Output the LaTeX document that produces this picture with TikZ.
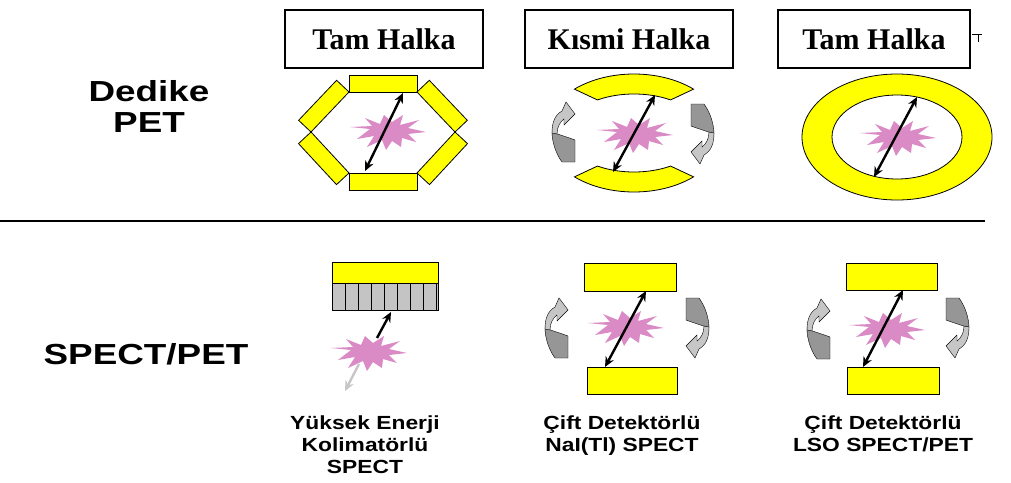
\documentclass[tikz,border=0pt]{standalone}
\usepackage{fontspec}
\setmainfont{Liberation Serif}
\newfontfamily\headfont[FakeStretch=1.27]{Liberation Sans}
\newfontfamily\capfont[FakeStretch=1.2]{Liberation Sans}
\usetikzlibrary{arrows.meta,calc}

\definecolor{detyellow}{RGB}{255,255,0}
\definecolor{burst}{RGB}{218,138,196}
\definecolor{turnlight}{RGB}{198,198,198}
\definecolor{turndark}{RGB}{150,150,150}
\definecolor{septa}{RGB}{196,196,196}

\tikzset{
  crystal/.style={fill=detyellow, draw=black, line width=0.8pt},
  titlebox/.style={draw=black, line width=1.3pt, minimum width=#1, minimum height=58pt,
    inner sep=0pt, font=\fontsize{30}{32}\selectfont\bfseries},
  rowlabel/.style={font=\headfont\bfseries\fontsize{29}{31}\selectfont, align=center},
  caption/.style={font=\capfont\bfseries\fontsize{19}{22}\selectfont, align=center, anchor=north},
  gamma/.style={line width=2.4pt, {Stealth[length=10pt,width=9pt]}-{Stealth[length=10pt,width=9pt]}},
  gammaone/.style={line width=2.4pt, -{Stealth[length=10pt,width=9pt]}},
  escape/.style={line width=2.4pt, draw=turnlight, -{Stealth[length=10pt,width=9pt]}},
  burstpic/.pic={
    \fill[burst] (-38,-5) -- (-18,-3) -- (-31,7) -- (-14,4) -- (-21,15) -- (-6,8)
      -- (-2,18) -- (4,9) -- (13,15) -- (14,6) -- (28,10) -- (20,2) -- (38,0)
      -- (20,-4) -- (31,-12) -- (12,-7) -- (15,-17) -- (4,-10) -- (-4,-17)
      -- (-8,-8) -- (-23,-14) -- (-16,-6) -- cycle;
  },
  turnpic/.pic={
    \filldraw[fill=turndark, draw=black, line width=0.4pt]
      (12,30) -- (-1,30) .. controls (-7,22) and (-11,10) .. (-11,0)
      .. controls (-6,2) and (4,5) .. (12,8) -- cycle;
    \filldraw[fill=turnlight, draw=black, line width=0.4pt]
      (-11,1) .. controls (-11,-10) and (-8,-17) .. (-1,-21) -- (3,-30) -- (12,-18)
      -- (1,-7) -- (1,-13) .. controls (-3,-10) and (-6,-5) .. (-6,2) -- cycle;
  }
}

\begin{document}
\begin{tikzpicture}[x=1pt, y=-1pt]
  \useasboundingbox (0,0) rectangle (1011,482);

  % headings
  \node[titlebox=198pt] (t1) at (384,39) {Tam Halka};
  \node[titlebox=208pt] (t2) at (629,39) {Kısmi Halka};
  \node[titlebox=192pt] (t3) at (874,39) {Tam Halka};
  \coordinate (tk1) at (972,34);
  \coordinate (tk2) at (982,34);
  \coordinate (tk3) at (978,34);
  \coordinate (tk4) at (978,42);
  \draw[line width=1pt] (tk1) -- (tk2) (tk3) -- (tk4);

  \node[rowlabel] (rpet) at (149,106) {Dedike\\PET};
  \node[rowlabel] (rspect) at (146,354) {SPECT/PET};

  \coordinate (divl) at (0,221);
  \coordinate (divr) at (985,221);
  \draw[line width=1.4pt] (divl) -- (divr);

  % ---- dedicated PET: hexagonal full ring
  \draw[crystal] (349,92) -- (417,92) -- (417,75) -- (349,75) -- cycle;
  \draw[crystal] (417,92) -- (455,132) -- (467.3,120.3) -- (429.3,80.3) -- cycle;
  \draw[crystal] (455,132) -- (417,173) -- (429.5,184.6) -- (467.5,143.6) -- cycle;
  \draw[crystal] (417,173) -- (349,173) -- (349,190) -- (417,190) -- cycle;
  \draw[crystal] (349,173) -- (311,132) -- (298.5,143.6) -- (336.5,184.6) -- cycle;
  \draw[crystal] (311,132) -- (349,92) -- (336.6,80.3) -- (298.6,120.3) -- cycle;
  \coordinate (b1) at (388,132);
  \pic at (b1) {burstpic};
  \coordinate (g1a) at (403,93);
  \coordinate (g1b) at (365,171);
  \draw[gamma] (g1b) -- (g1a);

  % ---- dedicated PET: partial ring with rotation
  \coordinate (c2) at (634,133);
  \draw[crystal] ([shift={(-132:89 and 59)}]c2)
    arc[start angle=-132, end angle=-48, x radius=89, y radius=59]
    -- ([shift={(-58:69 and 39)}]c2)
    arc[start angle=-58, end angle=-122, x radius=69, y radius=39] -- cycle;
  \draw[crystal] ([shift={(132:89 and 59)}]c2)
    arc[start angle=132, end angle=48, x radius=89, y radius=59]
    -- ([shift={(58:69 and 39)}]c2)
    arc[start angle=58, end angle=122, x radius=69, y radius=39] -- cycle;
  \pic at (563,132) {turnpic};
  \pic[rotate=180] at (703,134) {turnpic};
  \coordinate (b2) at (635,135);
  \pic at (b2) {burstpic};
  \coordinate (g2a) at (655,95);
  \coordinate (g2b) at (613,172);
  \draw[gamma] (g2b) -- (g2a);

  % ---- dedicated PET: continuous ring
  \coordinate (c3) at (897,137);
  \fill[detyellow, even odd rule] (c3) ellipse[x radius=95, y radius=63]
    (c3) ellipse[x radius=65, y radius=42];
  \draw[line width=0.8pt] (c3) ellipse[x radius=95, y radius=63];
  \draw[line width=0.8pt] (c3) ellipse[x radius=65, y radius=42];
  \coordinate (b3) at (898,138);
  \pic at (b3) {burstpic};
  \coordinate (g3a) at (917,97);
  \coordinate (g3b) at (874,177);
  \draw[gamma] (g3b) -- (g3a);

  % ---- SPECT/PET: high energy collimator
  \draw[crystal] (332,262) rectangle (438,283);
  \fill[septa] (332,283) rectangle (438,310);
  \foreach \k in {1,...,8} {
    \draw[line width=0.8pt] (332+13*\k,283) -- (332+13*\k,310);
  }
  \draw[line width=0.8pt] (332,283) rectangle (438,310);
  \coordinate (b4) at (369,353);
  \pic at (b4) {burstpic};
  \coordinate (g4a) at (377,338);
  \coordinate (g4b) at (391,312);
  \draw[gammaone] (g4a) -- (g4b);
  \coordinate (g4c) at (359,364);
  \coordinate (g4d) at (345,391);
  \draw[escape] (g4c) -- (g4d);

  % ---- SPECT/PET: dual head NaI(Tl)
  \draw[crystal] (584,263) rectangle (676,291);
  \draw[crystal] (587,367) rectangle (677,394);
  \pic at (556,328) {turnpic};
  \pic[rotate=180] at (698,328) {turnpic};
  \coordinate (b5) at (626,328);
  \pic at (b5) {burstpic};
  \coordinate (g5a) at (646,291);
  \coordinate (g5b) at (605,367);
  \draw[gamma] (g5b) -- (g5a);

  % ---- SPECT/PET: dual head LSO
  \draw[crystal] (846,263) rectangle (937,290);
  \draw[crystal] (847,367) rectangle (939,394);
  \pic at (818,329) {turnpic};
  \pic[rotate=180] at (958,328) {turnpic};
  \coordinate (b6) at (887,330);
  \pic at (b6) {burstpic};
  \coordinate (g6a) at (903,290);
  \coordinate (g6b) at (863,367);
  \draw[gamma] (g6b) -- (g6a);

  % captions
  \node[caption] (cap1) at (365,412) {Yüksek Enerji\\Kolimatörlü\\SPECT};
  \node[caption] (cap2) at (622,412) {Çift Detektörlü\\NaI(Tl) SPECT};
  \node[caption] (cap3) at (883,412) {Çift Detektörlü\\LSO SPECT/PET};
\end{tikzpicture}
\end{document}
